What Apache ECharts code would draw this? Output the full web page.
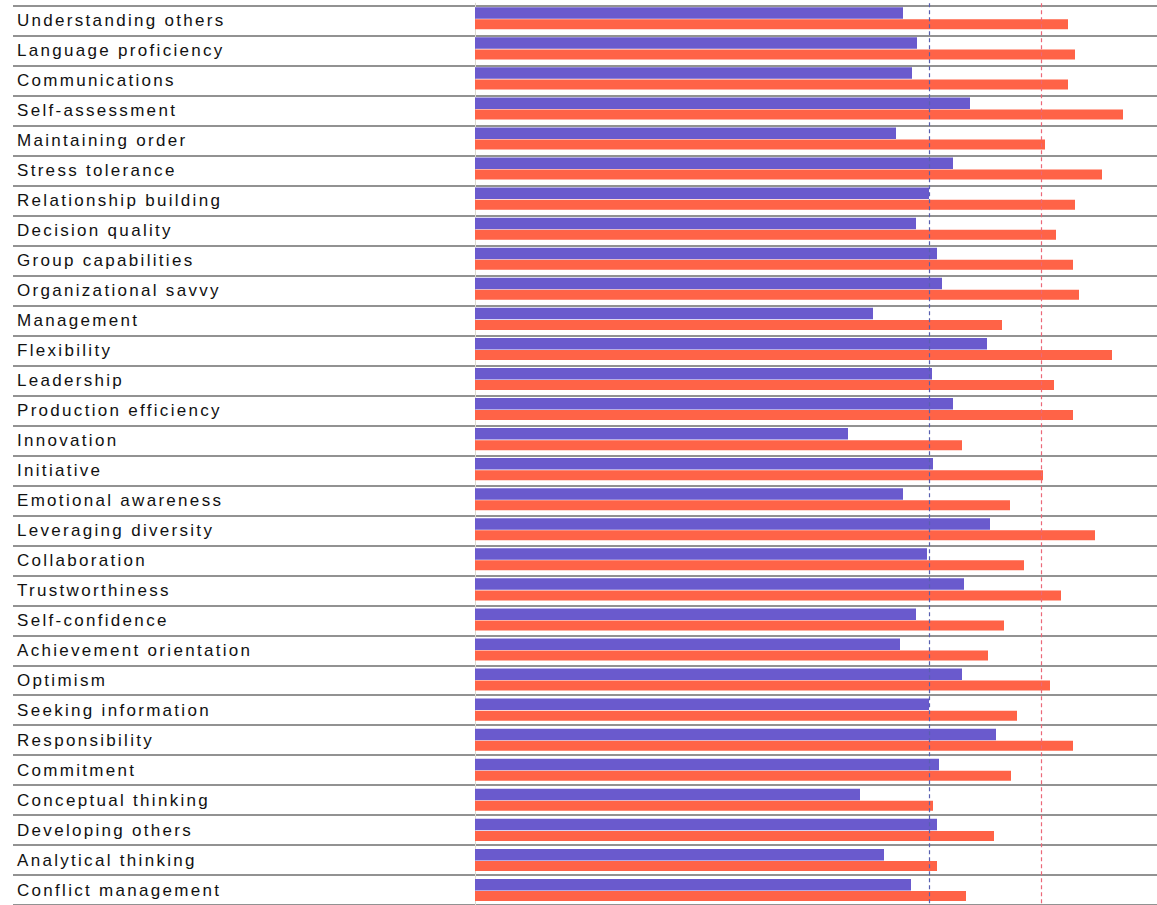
<!DOCTYPE html>
<html>
<head>
<meta charset="utf-8">
<script src="https://cdn.jsdelivr.net/npm/echarts@6/dist/echarts.min.js"></script>
<style>
html, body { margin: 0; padding: 0; background: #fff; }
#chart { width: 1157px; height: 905px; }
#chart text { letter-spacing: 2.3px; }
</style>
</head>
<body>
<div id="chart"></div>
<script>
const categories = [
  "Understanding others", "Language proficiency", "Communications", "Self-assessment",
  "Maintaining order", "Stress tolerance", "Relationship building", "Decision quality",
  "Group capabilities", "Organizational savvy", "Management", "Flexibility",
  "Leadership", "Production efficiency", "Innovation", "Initiative",
  "Emotional awareness", "Leveraging diversity", "Collaboration", "Trustworthiness",
  "Self-confidence", "Achievement orientation", "Optimism", "Seeking information",
  "Responsibility", "Commitment", "Conceptual thinking", "Developing others",
  "Analytical thinking", "Conflict management"
];
const blueValues = [
  42.8, 44.2, 43.7, 49.5, 42.1, 47.8, 45.4, 44.1, 46.2, 46.7,
  39.8, 51.2, 45.7, 47.8, 37.3, 45.8, 42.8, 51.5, 45.2, 48.9,
  44.1, 42.5, 48.7, 45.4, 52.1, 46.4, 38.5, 46.2, 40.9, 43.6
];
const redValues = [
  59.3, 60.0, 59.3, 64.8, 57.0, 62.7, 60.0, 58.1, 59.8, 60.4,
  52.7, 63.7, 57.9, 59.8, 48.7, 56.8, 53.5, 62.0, 54.9, 58.6,
  52.9, 51.3, 57.5, 54.2, 59.8, 53.6, 45.8, 51.9, 46.2, 49.1
];
const blueAverage = 45.4;
const redAverage = 56.6;
const axisMax = 68.2;

const chart = echarts.init(document.getElementById('chart'), null, { renderer: 'svg' });
chart.setOption({
  animation: false,
  backgroundColor: '#ffffff',
  grid: [
    { left: 13, right: 0, top: 6, height: 905, containLabel: false },
    { left: 475, right: 0, top: 3.25, height: 905, containLabel: false }
  ],
  xAxis: [
    { gridIndex: 0, type: 'value', show: false, min: 0, max: 1 },
    { gridIndex: 1, type: 'value', min: 0, max: axisMax,
      axisLine: { show: false }, axisTick: { show: false },
      axisLabel: { show: false }, splitLine: { show: false } }
  ],
  yAxis: [
    { gridIndex: 0, type: 'category', data: categories, inverse: true,
      axisLine: { show: false }, axisTick: { show: false },
      axisLabel: { inside: true, margin: 4, color: '#111', fontSize: 17,
        fontFamily: 'Liberation Sans, Arial, sans-serif' },
      splitLine: { show: true, lineStyle: { color: '#929292', width: 2 } } },
    { gridIndex: 1, type: 'category', data: categories, inverse: true,
      axisLine: { show: true, lineStyle: { color: '#dcd8d0', width: 1 } },
      axisTick: { show: false }, axisLabel: { show: false },
      splitLine: { show: false } }
  ],
  series: [
    { type: 'bar', name: 'Blue', xAxisIndex: 1, yAxisIndex: 1, data: blueValues,
      barWidth: 11.5, barGap: '5%', itemStyle: { color: '#6a5acd' },
      markLine: { silent: true, symbol: 'none', label: { show: false },
        lineStyle: { color: '#5860b0', type: [4, 3], width: 1.2, opacity: 1 },
        data: [{ xAxis: blueAverage }] } },
    { type: 'bar', name: 'Red', xAxisIndex: 1, yAxisIndex: 1, data: redValues,
      barWidth: 10, barGap: '5%', itemStyle: { color: '#ff6347' },
      markLine: { silent: true, symbol: 'none', label: { show: false },
        lineStyle: { color: '#ec6878', type: [4, 3], width: 1.2, opacity: 1 },
        data: [{ xAxis: redAverage }] } }
  ]
});
</script>
</body>
</html>
